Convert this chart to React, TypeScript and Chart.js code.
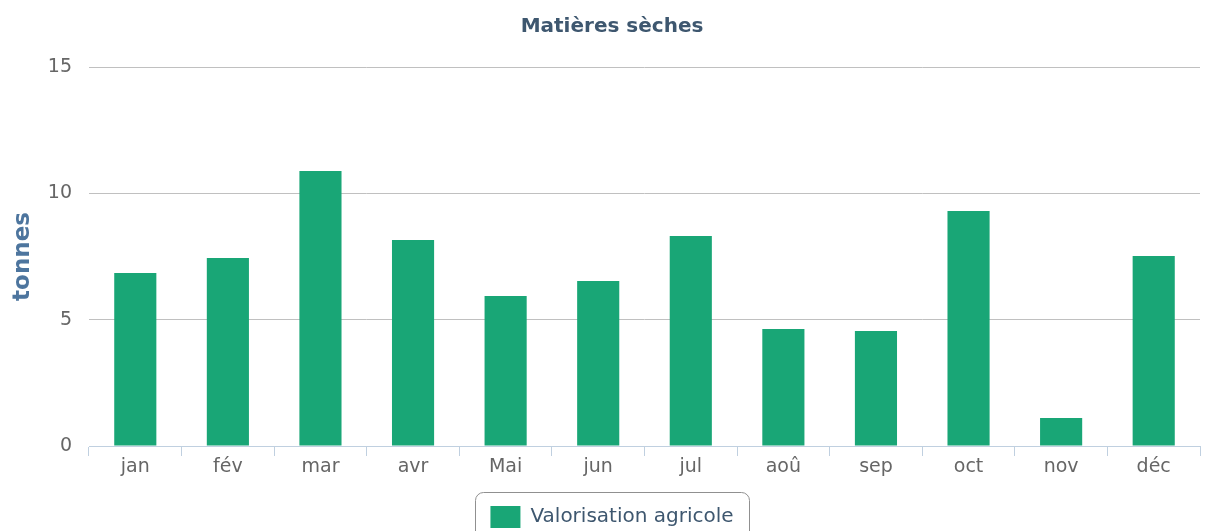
import React, { useEffect, useRef } from "react";
import { Chart, registerables } from "chart.js";

Chart.register(...registerables);

const categories = ["jan", "fév", "mar", "avr", "Mai", "jun", "jul", "aoû", "sep", "oct", "nov", "déc"];
const valorisationAgricole = [6.85, 7.44, 10.88, 8.15, 5.94, 6.53, 8.31, 4.63, 4.55, 9.3, 1.11, 7.52];
const yTicks = [0, 5, 10, 15];
const chartTitle = "Matières sèches";
const yAxisTitle = "tonnes";
const seriesName = "Valorisation agricole";

const FONT = "'DejaVu Sans', Verdana, sans-serif";

const legendBorder = {
  id: "legendBorder",
  afterDraw(chart: any) {
    const hb = chart.legend?.legendHitBoxes?.[0];
    if (!hb) return;
    const ctx = chart.ctx;
    const x = Math.round(hb.left - 15);
    const y = Math.round(hb.top - 14);
    const w = Math.round(hb.width + 31);
    const h = hb.height + 40;
    const r = 8;
    ctx.save();
    ctx.strokeStyle = "#909090";
    ctx.lineWidth = 1;
    ctx.beginPath();
    ctx.moveTo(x + r + 0.5, y + 0.5);
    ctx.lineTo(x + w - r + 0.5, y + 0.5);
    ctx.arcTo(x + w + 0.5, y + 0.5, x + w + 0.5, y + r + 0.5, r);
    ctx.lineTo(x + w + 0.5, y + h);
    ctx.moveTo(x + 0.5, y + h);
    ctx.lineTo(x + 0.5, y + r + 0.5);
    ctx.arcTo(x + 0.5, y + 0.5, x + r + 0.5, y + 0.5, r);
    ctx.stroke();
    ctx.restore();
  },
};

export default function App() {
  const ref = useRef<HTMLCanvasElement>(null);
  useEffect(() => {
    if (!ref.current) return;
    const chart = new Chart(ref.current, {
      type: "bar",
      data: {
        labels: categories,
        datasets: [
          {
            label: seriesName,
            data: valorisationAgricole,
            backgroundColor: "#19A676",
            borderColor: "#19A676",
            borderWidth: 0,
            categoryPercentage: 1,
            barPercentage: 0.455,
          },
        ],
      },
      options: {
        responsive: false,
        animation: false,
        layout: { padding: { left: 24, right: 6, top: 0, bottom: -7 } },
        plugins: {
          title: {
            display: true,
            text: chartTitle,
            color: "#3E576F",
            font: { family: FONT, size: 20, weight: "bold" },
            padding: { top: 15, bottom: 28 },
          },
          legend: {
            display: true,
            position: "bottom",
            labels: {
              color: "#3E576F",
              font: { family: FONT, size: 20 },
              boxWidth: 30,
              boxHeight: 22,
              padding: 10,
            },
          },
          tooltip: { enabled: false },
        },
        scales: {
          x: {
            afterFit(scale: any) {
              scale.height = 50;
            },
            grid: {
              offset: true,
              drawOnChartArea: false,
              drawTicks: true,
              tickLength: 10,
              color: "#C0D0E0",
            },
            border: { display: true, color: "#C0D0E0" },
            ticks: {
              color: "#666666",
              font: { family: FONT, size: 19 },
              padding: 0,
              maxRotation: 0,
              autoSkip: false,
            },
          },
          y: {
            min: 0,
            max: 15,
            afterFit(scale: any) {
              scale.width = 65;
            },
            afterBuildTicks(scale: any) {
              scale.ticks = yTicks.map((v) => ({ value: v }));
            },
            grid: { color: "#C0C0C0", drawTicks: false },
            border: { display: false },
            ticks: {
              color: "#666666",
              font: { family: FONT, size: 19 },
              padding: 17,
            },
            title: {
              display: true,
              text: yAxisTitle,
              color: "#4D759E",
              font: { family: FONT, size: 23, weight: "bold" },
              padding: { top: -15, bottom: 0 },
            },
          },
        },
      },
      plugins: [legendBorder],
    });
    return () => chart.destroy();
  }, []);
  return (
    <canvas
      ref={ref}
      width={1206}
      height={531}
      style={{ position: "fixed", top: 0, left: 0, display: "block", background: "#fff" }}
    />
  );
}
